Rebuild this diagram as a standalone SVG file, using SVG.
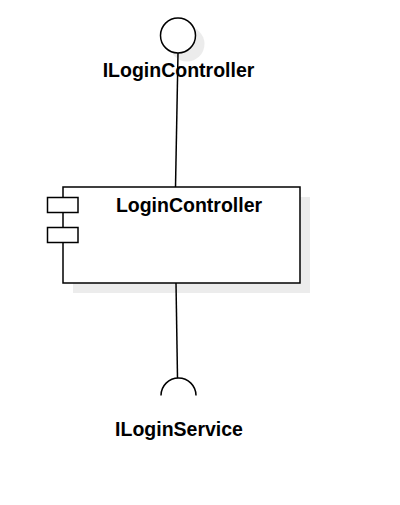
<svg xmlns="http://www.w3.org/2000/svg" width="400" height="505" viewBox="0 0 400 505">
<style>
.shadow{fill:#ececec;stroke:none}
.shape{fill:#fff;stroke:#000;stroke-width:1.5}
.edge{fill:none;stroke:#000;stroke-width:1.5}
.lbl{font-family:"Liberation Sans",Arial,sans-serif;font-weight:bold;font-size:19.5px;fill:#000;text-anchor:middle}
</style>
<rect width="400" height="505" fill="#fff"/>
<g id="ILoginController">
<circle class="shadow" cx="187" cy="44" r="17.5"/>
<circle class="shape" cx="178" cy="35.5" r="17.5"/>
<text class="lbl" x="178.5" y="77">ILoginController</text>
</g>
<g id="LoginController">
<rect class="shadow" x="73" y="197" width="237" height="96"/>
<rect class="shape" x="63" y="187" width="237" height="96"/>
<rect class="shape" x="47.5" y="197.5" width="30.5" height="15"/>
<rect class="shape" x="47.5" y="227.5" width="30.5" height="15"/>
<text class="lbl" x="189" y="212">LoginController</text>
</g>
<g id="ILoginService">
<path class="edge" d="M161 395.5 A17.5 17.5 0 0 1 196 395.5"/>
<text class="lbl" x="179" y="436">ILoginService</text>
</g>
<g id="connectors">
<path class="edge" d="M178 53 L175.5 187"/>
<path class="edge" d="M176 283 L177.5 378"/>
</g>
</svg>
